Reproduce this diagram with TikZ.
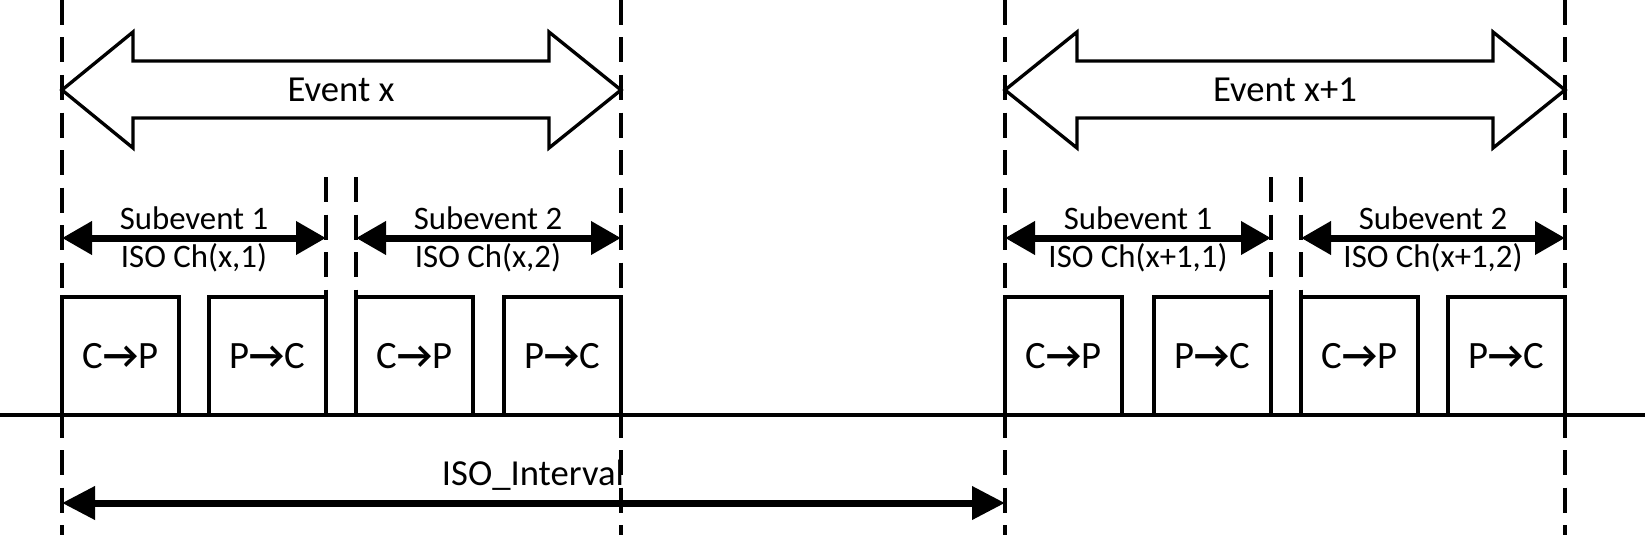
\documentclass[tikz,border=0pt]{standalone}
\usepackage{fontspec}
\setmainfont{Carlito}
\usetikzlibrary{arrows.meta}

\tikzset{every picture/.style={line width=2.5pt}}
\tikzset{
  boundary/.style={dash pattern=on 18.75pt off 9.375pt},
  pktbox/.style={draw, inner sep=0pt, outer sep=0pt, minimum width=87.75pt, minimum height=88.5pt, font=\fontsize{29}{35}\selectfont},
  spanarrow/.style={line width=5.25pt, {Triangle[length=22.5pt,width=24pt]}-{Triangle[length=22.5pt,width=24pt]}},
  longarrow/.style={line width=5.25pt, {Triangle[length=24.75pt,width=24pt]}-{Triangle[length=24.75pt,width=24pt]}},
  biglabel/.style={inner sep=0pt, font=\fontsize{27.5}{33}\selectfont},
  sublabel/.style={inner sep=0pt, font=\fontsize{24.6}{30}\selectfont},
}
\newcommand{\dirarrow}{\textbf{→}}

\begin{document}
\begin{tikzpicture}[x=0.75pt,y=0.75pt,yscale=-1,xscale=1]
\useasboundingbox (0,0) rectangle (1645,535);

%Straight Lines: event boundaries
\draw [boundary]  (62,0) -- (62,535) ;
\draw [boundary]  (621,0) -- (621,535) ;
\draw [boundary]  (1005,0) -- (1005,535) ;
\draw [boundary]  (1565,0) -- (1565,535) ;
%Straight Lines: subevent boundaries
\draw [boundary]  (326,177) -- (326,297) ;
\draw [boundary]  (356,177) -- (356,297) ;
\draw [boundary]  (1271,177) -- (1271,297) ;
\draw [boundary]  (1301,177) -- (1301,297) ;

%Shape: Double Arrow (event x)
\draw  (62,90) -- (133,32) -- (133,61) -- (549,61) -- (549,32) -- (621,90) -- (549,148) -- (549,118) -- (133,118) -- (133,148) -- cycle ;
%Shape: Double Arrow (event x+1)
\draw  (1005,90) -- (1077,32) -- (1077,61) -- (1493,61) -- (1493,32) -- (1565,90) -- (1493,148) -- (1493,118) -- (1077,118) -- (1077,148) -- cycle ;

% Text Node
\node (evx) [biglabel] at (341,90) {Event x};
% Text Node
\node (evx1) [biglabel] at (1285,90) {Event x+1};

%Packets
\node (cp11) [pktbox, anchor=south west] at (62,415) {C\dirarrow P};
\node (pc11) [pktbox, anchor=south east] at (326,415) {P\dirarrow C};
\node (cp12) [pktbox, anchor=south west] at (356,415) {C\dirarrow P};
\node (pc12) [pktbox, anchor=south east] at (621,415) {P\dirarrow C};
\node (cp21) [pktbox, anchor=south west] at (1005,415) {C\dirarrow P};
\node (pc21) [pktbox, anchor=south east] at (1271,415) {P\dirarrow C};
\node (cp22) [pktbox, anchor=south west] at (1301,415) {C\dirarrow P};
\node (pc22) [pktbox, anchor=south east] at (1565,415) {P\dirarrow C};

%Straight Lines: time axis
\draw  (0,415) -- (1645,415) ;

%Subevent spans
\coordinate (s11a) at (62,238);
\coordinate (s11b) at (326,238);
\coordinate (s12a) at (356,238);
\coordinate (s12b) at (621,238);
\coordinate (s21a) at (1005,238);
\coordinate (s21b) at (1271,238);
\coordinate (s22a) at (1301,238);
\coordinate (s22b) at (1565,238);
\draw [spanarrow]  (s11a) -- (s11b) ;
\draw [spanarrow]  (s12a) -- (s12b) ;
\draw [spanarrow]  (s21a) -- (s21b) ;
\draw [spanarrow]  (s22a) -- (s22b) ;

% Text Node
\node (sub11) [sublabel] at (194,218) {Subevent 1};
\node (ch11) [sublabel] at (194,258) {ISO Ch(x,1)};
\node (sub12) [sublabel] at (488,218) {Subevent 2};
\node (ch12) [sublabel] at (488,258) {ISO Ch(x,2)};
\node (sub21) [sublabel] at (1138,218) {Subevent 1};
\node (ch21) [sublabel] at (1138,258) {ISO Ch(x+1,1)};
\node (sub22) [sublabel] at (1433,218) {Subevent 2};
\node (ch22) [sublabel] at (1433,258) {ISO Ch(x+1,2)};

%ISO interval
\coordinate (isoa) at (62,503);
\coordinate (isob) at (1005,503);
\draw [longarrow]  (isoa) -- (isob) ;
% Text Node
\node (iso) [biglabel] at (533,475) {ISO\_Interval};

\end{tikzpicture}
\end{document}
